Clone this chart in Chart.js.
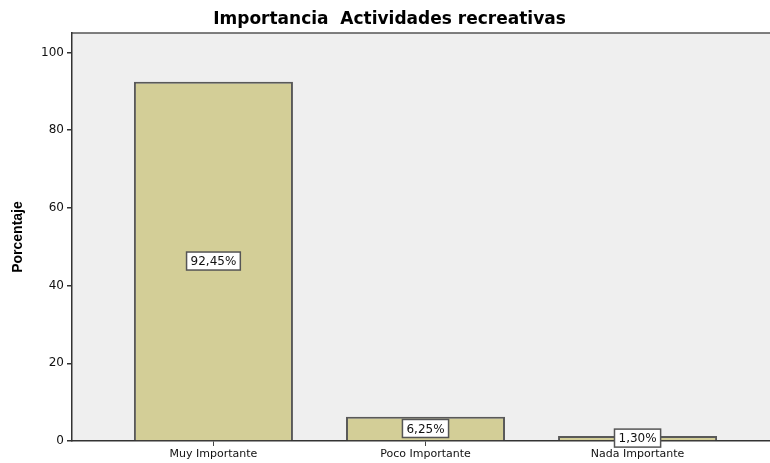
<!DOCTYPE html>
<html>
<head>
<meta charset="utf-8">
<script src="https://cdn.jsdelivr.net/npm/chart.js@4.4.1/dist/chart.umd.min.js"></script>
<style>
  html, body { margin: 0; padding: 0; background: #fff; overflow: hidden; }
  #wrap { width: 770px; height: 463px; overflow: hidden; }
</style>
</head>
<body>
<div id="wrap"><canvas id="chart" width="842" height="463"></canvas></div>
<script>
// categories and percentages
var categories = ["Muy Importante", "Poco Importante", "Nada Importante"];
var percentages = [92.45, 6.25, 1.30];
var valueLabels = ["92,45%", "6,25%", "1,30%"];
var yTicks = [0, 20, 40, 60, 80, 100];

var points = categories.map(function (c, i) {
    return { x: i, y: percentages[i] };
});

var mainFont = "'DejaVu Sans', Arial, sans-serif";

// gray plot background with the SPSS style top frame line
var plotBackground = {
    id: "plotBackground",
    beforeDraw: function (chart) {
        var a = chart.chartArea, ctx = chart.ctx;
        ctx.save();
        ctx.fillStyle = "#efefef";
        ctx.fillRect(a.left, a.top, a.right - a.left, a.bottom - a.top);
        ctx.strokeStyle = "#555";
        ctx.lineWidth = 1.5;
        ctx.beginPath();
        ctx.moveTo(a.left, a.top);
        ctx.lineTo(a.right + 5, a.top);
        ctx.stroke();
        ctx.restore();
    }
};

// boxed value labels in the middle of each bar
var boxLabels = {
    id: "boxLabels",
    afterDatasetsDraw: function (chart) {
        var ctx = chart.ctx;
        var meta = chart.getDatasetMeta(0);
        ctx.save();
        ctx.font = "12px " + mainFont;
        ctx.textAlign = "center";
        ctx.textBaseline = "middle";
        meta.data.forEach(function (bar, i) {
            var cx = bar.x;
            var cy = (bar.y + bar.base) / 2;
            var w = ctx.measureText(valueLabels[i]).width + 8;
            var h = 18;
            ctx.fillStyle = "#fff";
            ctx.fillRect(cx - w / 2, cy - h / 2, w, h);
            ctx.strokeStyle = "#555";
            ctx.lineWidth = 1.5;
            ctx.strokeRect(cx - w / 2, cy - h / 2, w, h);
            ctx.fillStyle = "#111";
            ctx.fillText(valueLabels[i], cx, cy + 1);
        });
        ctx.restore();
    }
};

var ctx = document.getElementById("chart");

var chart = new Chart(ctx, {
    type: "bar",
    data: {
        datasets: [
            {
                label: "Porcentaje",
                data: points,
                backgroundColor: "#d3ce97",
                borderColor: "#595959",
                borderWidth: 2,
                borderSkipped: "bottom",
                barPercentage: 0.75,
                categoryPercentage: 1
            }
        ]
    },
    options: {
        responsive: false,
        animation: false,
        layout: { padding: { right: 63, bottom: 0 } },
        plugins: {
            legend: { display: false },
            tooltip: { enabled: false },
            title: {
                display: true,
                text: "Importancia  Actividades recreativas",
                color: "#000",
                font: { family: mainFont, size: 17, weight: "bold", lineHeight: 1.18 },
                padding: { top: 10, bottom: 3 }
            }
        },
        scales: {
            x: {
                type: "linear",
                offset: false,
                min: -0.667,
                max: 2.667,
                afterBuildTicks: function (scale) {
                    scale.ticks = categories.map(function (c, i) { return { value: i }; });
                },
                afterFit: function (scale) { scale.height = 22; },
                grid: {
                    offset: false,
                    drawOnChartArea: false,
                    drawTicks: true,
                    tickLength: 5,
                    color: "#444",
                    lineWidth: 1
                },
                border: { display: true, color: "#333", width: 1.5 },
                ticks: {
                    padding: 2,
                    color: "#111",
                    font: { family: mainFont, size: 11 },
                    callback: function (v) { return categories[Math.round(v)]; }
                }
            },
            y: {
                min: 0,
                max: 105,
                afterBuildTicks: function (scale) {
                    scale.ticks = yTicks.map(function (v) { return { value: v }; });
                },
                afterFit: function (scale) { scale.width = 72; },
                title: {
                    display: true,
                    text: "Porcentaje",
                    color: "#000",
                    font: { family: "'Liberation Sans Narrow', 'Liberation Sans', Arial, sans-serif", size: 14, weight: "bold" },
                    padding: { top: 10, bottom: 0 }
                },
                grid: {
                    drawOnChartArea: false,
                    drawTicks: true,
                    tickLength: 5,
                    color: "#333",
                    lineWidth: 1.5
                },
                border: { display: true, color: "#333", width: 1.5 },
                ticks: {
                    padding: 3,
                    color: "#111",
                    font: { family: mainFont, size: 12 }
                }
            }
        }
    },
    plugins: [plotBackground, boxLabels]
});
</script>
</body>
</html>
